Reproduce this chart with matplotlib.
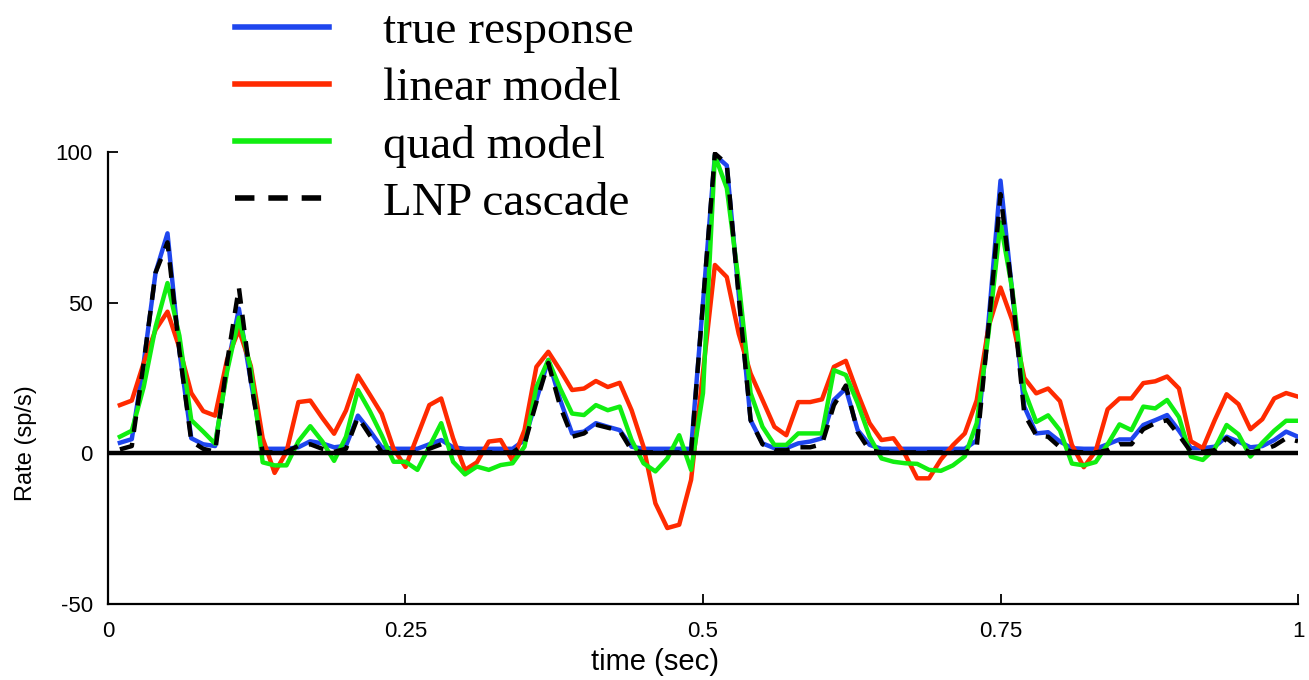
import numpy as np
import matplotlib
matplotlib.use("Agg")
import matplotlib.pyplot as plt

# time bins (10 ms)
t = np.arange(1, 101) * 0.01

true_response = [
    3.5, 4.7, 30, 60, 73, 34, 5, 3, 2.4, 28,
    48, 24, 1.5, 1.5, 1.5, 2, 4, 3.3, 2, 2.5,
    12.5, 7.5, 2, 1.5, 1.5, 1.5, 3, 4.4, 2, 1.5,
    1.5, 1.5, 1.5, 1.5, 4.4, 17.7, 31, 17.7, 6.6, 7.2,
    10, 8.8, 7.7, 2.2, 1.5, 1.5, 1.5, 1.5, 1.5, 50,
    99, 95.5, 53, 11, 3.3, 1.7, 1.7, 3.3, 3.9, 5,
    17.7, 21.5, 7.7, 2.8, 1.5, 1.5, 1.5, 1.5, 1.5, 1.5,
    1.5, 1.5, 4.3, 44, 90.5, 53, 15.5, 6.6, 7, 3.9,
    1.7, 1.5, 1.5, 3, 4.6, 4.6, 9.4, 11, 12.7, 7.5,
    1.7, 1.7, 2.2, 5.5, 3.9, 2, 2.4, 4.4, 7.2, 5.5,
]

linear_model = [
    16, 17.5, 30, 41, 47, 35, 20, 14, 12.5, 31,
    41, 29, 5, -6.5, 0.5, 17, 17.5, 11.8, 6.5, 14.2,
    25.8, 19.5, 13.1, 1.5, -4.5, 5.8, 16, 18.2, 5, -5.5,
    -3, 3.9, 4.4, -2.5, 7.7, 28.7, 33.7, 27.6, 21, 21.5,
    24, 22, 23.4, 14.3, 2.2, -16.6, -24.8, -23.7, -8.8, 27,
    62.5, 58.5, 39.7, 26.5, 17.7, 8.8, 6, 17, 17, 17.9,
    28.7, 30.7, 19.9, 10, 4.4, 5, -0.5, -8.3, -8.3, -2,
    2.7, 6.6, 17.6, 42, 55, 44, 25, 19.9, 21.5, 17.3,
    2.8, -4.6, 0.8, 14.6, 18.2, 18.2, 23.3, 23.9, 25.5, 21.5,
    4, 1.7, 11, 19.6, 16.3, 8, 11.3, 18.2, 20, 18.8,
]

quad_model = [
    5.5, 7.5, 22, 42, 56.5, 39, 11, 7.2, 3.2, 27,
    45, 28, -3, -4, -4, 4, 9, 4, -2.5, 5.5,
    21, 14, 6, -2.8, -2.8, -5.5, 2.2, 10, -2.8, -7,
    -4.4, -5.5, -3.9, -3.3, 2.2, 22, 31, 21.5, 13.2, 12.7,
    16, 14.3, 15.5, 4.4, -3.3, -6, -1.7, 6, -5.5, 20,
    98.8, 88, 57, 20, 8.8, 2.8, 2.8, 6.6, 6.6, 6.6,
    27.6, 26, 16.6, 5.5, -1.7, -2.8, -3.3, -3.5, -5.5, -5.8,
    -4, -1, 10, 40, 76.6, 54, 20.9, 10.4, 12.6, 7.6,
    -3.4, -4, -2.9, 3, 9.6, 7.7, 15.5, 14.9, 17.7, 12,
    -1.1, -2.2, 1.5, 9.4, 6.3, -1.1, 3.5, 7.5, 10.8, 10.8,
]

lnp_cascade = [
    1.3, 2.4, 30, 60, 70, 34, 4, 1.5, 0.5, 30,
    55, 24, 0.3, 0.3, 0.5, 2.5, 3, 1.5, 0.5, 1.5,
    12, 6, 0.5, 0.3, 0.3, 0.3, 1.5, 3, 0.5, 0.3,
    0.3, 0.3, 0.3, 0.3, 3, 17, 30, 15.5, 5.5, 6.6,
    9.5, 8.5, 7.5, 1, 0.3, 0.3, 0.3, 0.3, 0.3, 50,
    99.5, 96, 52, 11, 3, 1, 1, 2, 2, 3,
    16, 22.5, 7, 1, 0.3, 0.3, 0.3, 0.3, 0.3, 0.3,
    0.3, 0.3, 2, 42, 86, 53, 13, 6, 5.5, 2,
    0.5, 0.3, 0.3, 1, 3, 3, 8, 10, 11, 6,
    0.5, 0.5, 1, 5, 2, 0.3, 1, 2.5, 5, 4,
]

xticks = [0, 0.25, 0.5, 0.75, 1]
xticklabels = ["0", "0.25", "0.5", "0.75", "1"]
yticks = [-50, 0, 50, 100]
yticklabels = ["-50", "0", "50", "100"]

sans = ["Liberation Sans", "DejaVu Sans"]
serif = ["Liberation Serif", "DejaVu Serif"]

fig = plt.figure(figsize=(13.09, 6.8), dpi=100)
ax = fig.add_axes([0.0825, 0.1118, 0.9091, 0.6647])

lw = 3.2
ax.plot(t, true_response, color="#1f46ee", lw=lw, label="true response")
ax.plot(t, linear_model, color="#ff2a00", lw=lw, label="linear model")
ax.plot(t, quad_model, color="#11ee11", lw=lw, label="quad model")
ax.plot(t, lnp_cascade, color="black", lw=lw, dashes=(3.5, 2.5), label="LNP cascade")
ax.axhline(0, color="black", lw=3.2, zorder=5)

ax.set_xlim(0, 1)
ax.set_ylim(-50, 100)
ax.set_xticks(xticks)
ax.set_xticklabels(xticklabels, family=sans, fontsize=16)
ax.set_yticks(yticks)
ax.set_yticklabels(yticklabels, family=sans, fontsize=16)
ax.tick_params(direction="in", length=7, width=1.3)
ax.tick_params(axis="x", pad=12)
ax.tick_params(axis="y", pad=11)
for s in ["top", "right"]:
    ax.spines[s].set_visible(False)
for s in ["left", "bottom"]:
    ax.spines[s].set_linewidth(1.6)

ax.set_xlabel("time (sec)", family=sans, fontsize=21)
ax.set_ylabel("Rate (sp/s)", family=sans, fontsize=17)
ax.xaxis.set_label_coords((655 - 108) / 1189, -(662 - 604) / 452, transform=ax.transAxes)
ax.yaxis.set_label_coords(-(108 - 26) / 1189, (604 - 443) / 452, transform=ax.transAxes)
ax.xaxis.label.set_va("center")
ax.yaxis.label.set_va("center")

leg = ax.legend(loc="upper left", bbox_to_anchor=(235 / 1309, 0.985), bbox_transform=fig.transFigure,
                frameon=False, prop={"family": serif, "size": 34}, borderpad=0, borderaxespad=0,
                handlelength=2.0, handletextpad=1.13, labelspacing=0.3)
for line in leg.get_lines():
    line.set_linewidth(4)

fig.savefig("out.png", dpi=100)
